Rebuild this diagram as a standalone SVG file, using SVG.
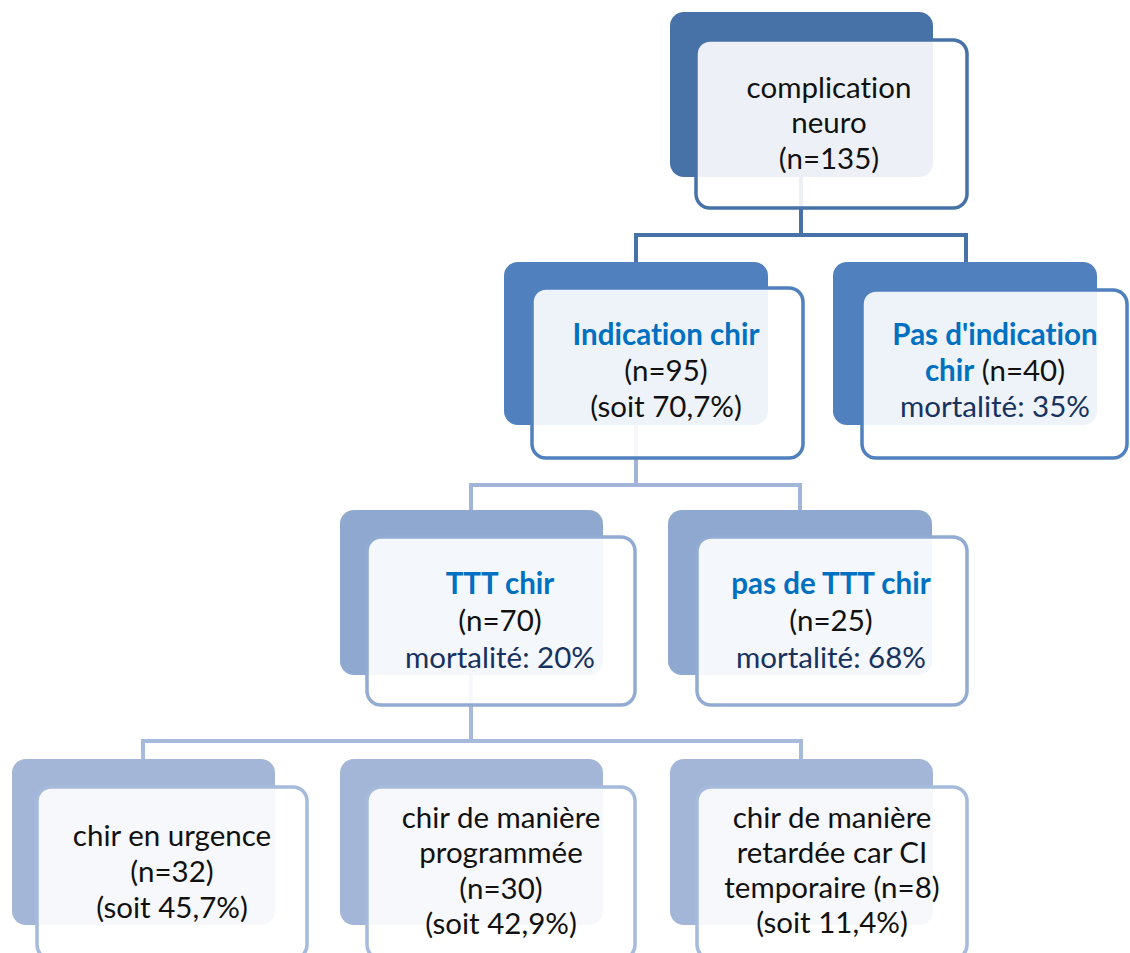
<svg xmlns="http://www.w3.org/2000/svg" width="1130" height="953" viewBox="0 0 1130 953">
<style>
text{font-family:Lato,"Liberation Sans",sans-serif;font-size:29.5px;text-anchor:middle;fill:#111;font-variant-ligatures:none}
.b{font-weight:bold;fill:#0070c0}
.m{fill:#17325f}
.front{fill:#ffffff;fill-opacity:0.9;stroke-width:3.5}
.c1{fill:#4672a8}.s1{stroke:#4672a8}
.c2{fill:#5080bd}.s2{stroke:#5080bd}
.c3{fill:#8ea8d0}.s3{stroke:#91abd2}
.c4{fill:#a3b6d8}.s4{stroke:#a6badb}
.conn line{stroke-width:4;fill:none}
</style>
<rect width="1130" height="953" fill="#ffffff"/>
<g class="conn">
<g class="s1"><line x1="801" y1="177" x2="801" y2="235"/><line x1="634" y1="235" x2="968" y2="235"/><line x1="636" y1="235" x2="636" y2="262"/><line x1="966" y1="235" x2="966" y2="262"/></g>
<g style="stroke:#a0b5d8"><line x1="636" y1="425" x2="636" y2="485"/><line x1="469" y1="485" x2="802" y2="485"/><line x1="471" y1="485" x2="471" y2="510"/><line x1="800" y1="485" x2="800" y2="510"/></g>
<g class="s4"><line x1="471" y1="675" x2="471" y2="741"/><line x1="141" y1="741" x2="803" y2="741"/><line x1="143" y1="741" x2="143" y2="759"/><line x1="801" y1="741" x2="801" y2="759"/></g>
</g>
<g id="n1"><rect class="c1" x="670" y="12" width="263" height="165" rx="14"/><rect class="front s1" x="696" y="40" width="271" height="168" rx="14"/>
<text x="829" y="98">complication</text><text x="829" y="133">neuro</text><text x="829" y="169">(n=135)</text></g>
<g id="n2"><rect class="c2" x="504" y="262" width="264" height="163" rx="14"/><rect class="front s2" x="532" y="288" width="271" height="170" rx="14"/>
<text class="b" x="666" y="345">Indication chir</text><text x="666" y="381">(n=95)</text><text x="666" y="417">(soit 70,7%)</text></g>
<g id="n3"><rect class="c2" x="833" y="262" width="264" height="163" rx="14"/><rect class="front s2" x="862" y="290" width="265" height="168" rx="14"/>
<text class="b" x="995" y="345">Pas d'indication</text><text x="995" y="381"><tspan class="b">chir</tspan> (n=40)</text><text class="m" x="995" y="417">mortalité: 35%</text></g>
<g id="n4"><rect class="c3" x="340" y="510" width="263" height="165" rx="14"/><rect class="front s3" x="367" y="537" width="268" height="168" rx="14"/>
<text class="b" x="500" y="594">TTT chir</text><text x="500" y="631">(n=70)</text><text class="m" x="500" y="668">mortalité: 20%</text></g>
<g id="n5"><rect class="c3" x="668" y="510" width="264" height="165" rx="14"/><rect class="front s3" x="697" y="537" width="270" height="168" rx="14"/>
<text class="b" x="831" y="594">pas de TTT chir</text><text x="831" y="631">(n=25)</text><text class="m" x="831" y="668">mortalité: 68%</text></g>
<g id="n6"><rect class="c4" x="12" y="759" width="263" height="166" rx="14"/><rect class="front s4" x="37" y="787" width="270" height="172" rx="14"/>
<text x="172" y="846">chir en urgence</text><text x="172" y="882">(n=32)</text><text x="172" y="918">(soit 45,7%)</text></g>
<g id="n7"><rect class="c4" x="340" y="759" width="263" height="166" rx="14"/><rect class="front s4" x="367" y="787" width="268" height="172" rx="14"/>
<text x="501" y="828">chir de manière</text><text x="501" y="863">programmée</text><text x="501" y="899">(n=30)</text><text x="501" y="934">(soit 42,9%)</text></g>
<g id="n8"><rect class="c4" x="670" y="759" width="263" height="166" rx="14"/><rect class="front s4" x="697" y="787" width="270" height="172" rx="14"/>
<text x="832" y="828">chir de manière</text><text x="832" y="863">retardée car CI</text><text x="832" y="898">temporaire (n=8)</text><text x="832" y="933">(soit 11,4%)</text></g>
</svg>
